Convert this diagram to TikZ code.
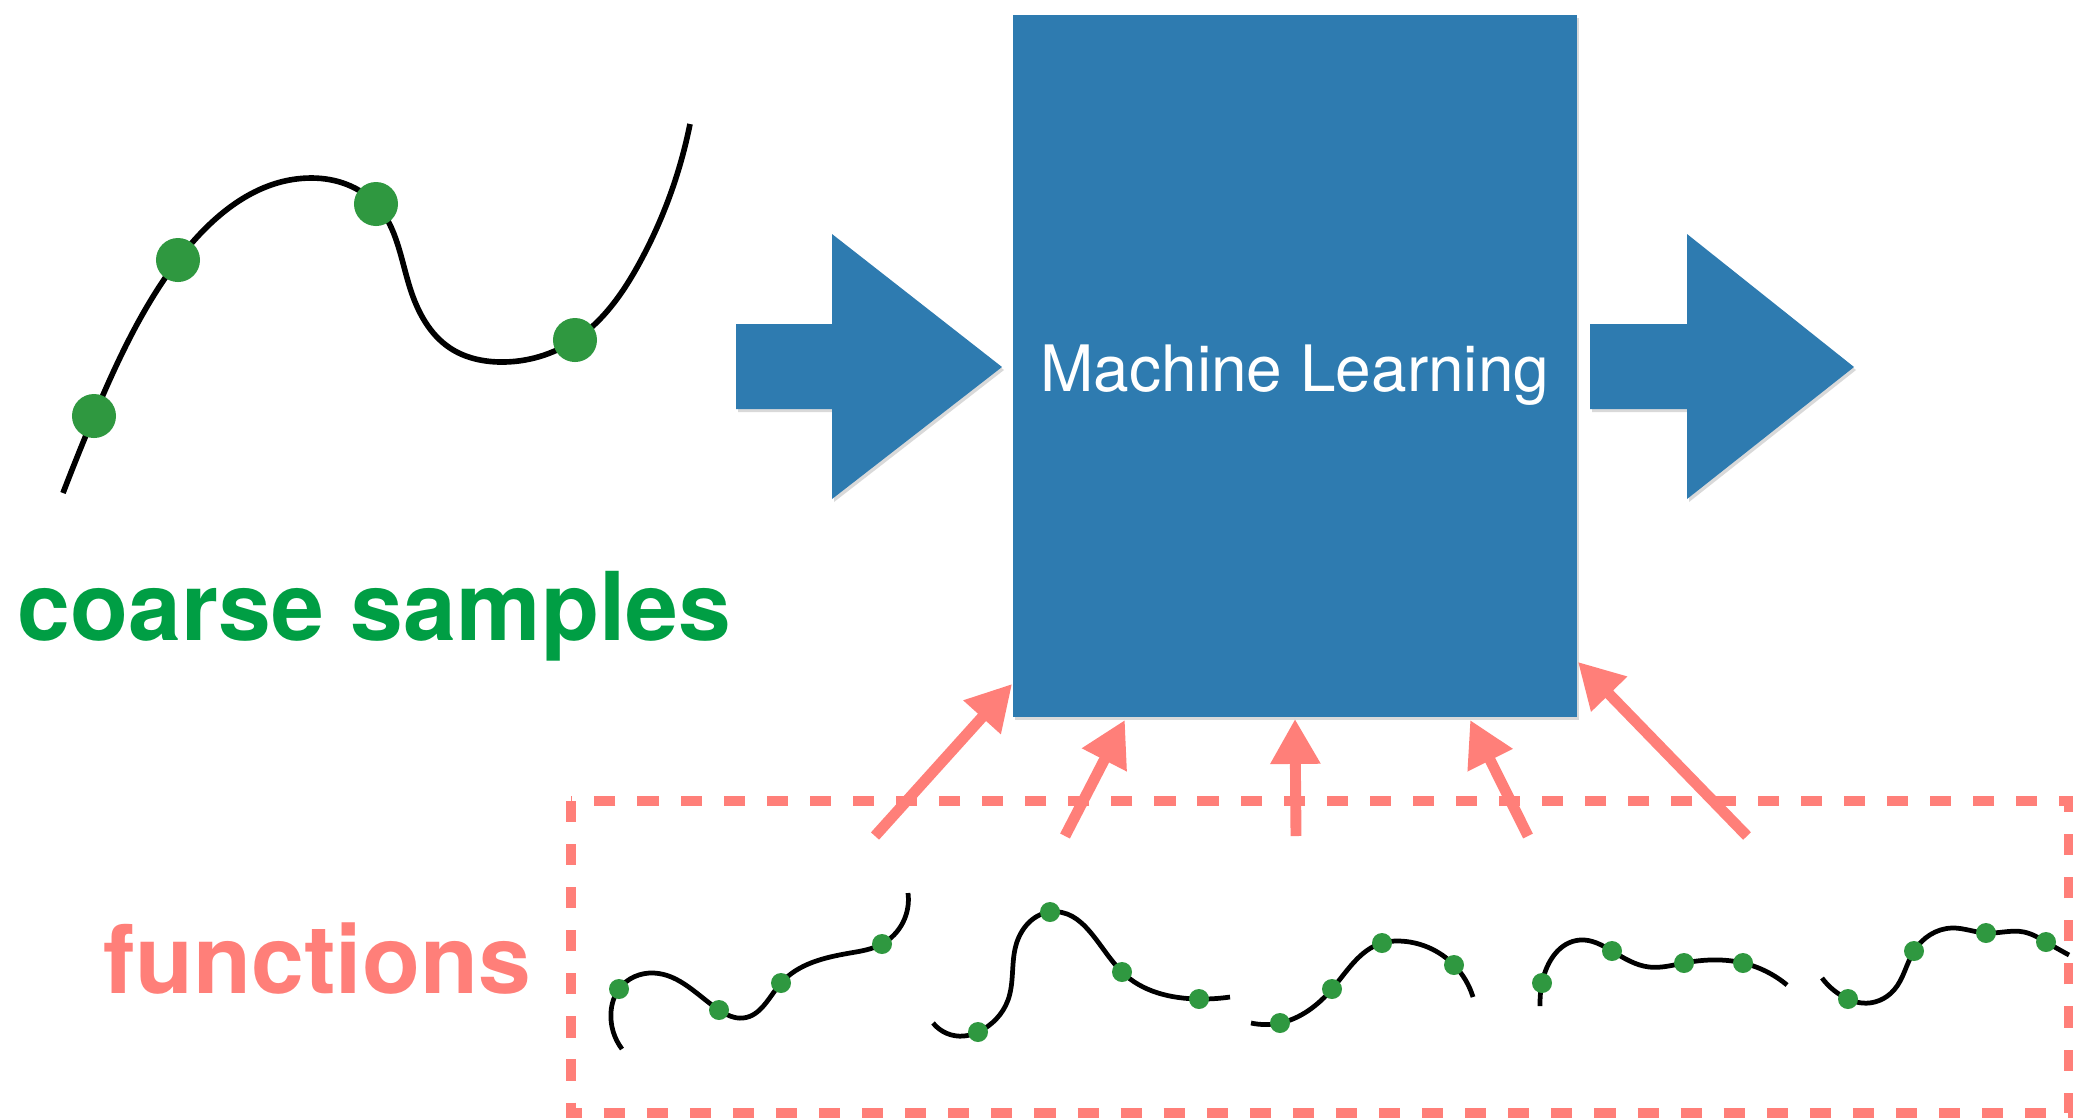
\documentclass[tikz,border=0pt]{standalone}
\usepackage{fontspec}
\setmainfont{TeX Gyre Heros}
\usetikzlibrary{arrows.meta,shadows,hobby}
\definecolor{mlblue}{RGB}{46,123,176}
\definecolor{salmon}{RGB}{255,127,121}
\definecolor{textgreen}{RGB}{0,158,68}
\definecolor{dotgreen}{RGB}{47,152,64}
\begin{document}
\begin{tikzpicture}[x=0.01cm,y=-0.01cm,
  softshadow/.style={drop shadow={shadow xshift=0.02cm,shadow yshift=-0.03cm,opacity=0.15,fill=black}},
  mlbox/.style={fill=mlblue,minimum width=5.64cm,minimum height=7.02cm,inner sep=0pt,softshadow},
  bigarrow/.style={fill=mlblue,softshadow},
  fnarrow/.style={draw=salmon,line width=3.1pt,-{Triangle[length=12.8pt,width=13.5pt]}},
  fnbox/.style={draw=salmon,line width=2.85pt,dash pattern=on 6pt off 6.25pt},
  bigcurve/.style={draw=black,line width=1.6pt,use Hobby shortcut},
  smallcurve/.style={draw=black,line width=1.35pt,use Hobby shortcut},
  bigdot/.style={circle,fill=dotgreen,minimum size=0.44cm,inner sep=0pt},
  smalldot/.style={circle,fill=dotgreen,minimum size=0.2cm,inner sep=0pt},
  biglabel/.style={font=\fontsize{27}{32}\selectfont\bfseries,inner sep=0pt,anchor=base west},
]
\useasboundingbox (0,0) rectangle (2073,1117);

% coarse sampled function
\draw[bigcurve] (63,493) .. (94,416) .. (178,260) .. (312,178) .. (376,204) .. (410,288) .. (450,348) .. (500,362) .. (575,340) .. (640,262) .. (690,124);
\node[bigdot] (s1) at (94,416) {};
\node[bigdot] (s2) at (178,260) {};
\node[bigdot] (s3) at (376,204) {};
\node[bigdot] (s4) at (575,340) {};
\node[biglabel,text=textgreen] (coarse) at (17,640) {coarse samples};

% machine learning block
\node[mlbox] (ml) at (1295,366) {};
\node[font=\fontsize{18.2}{22}\selectfont,text=white,inner sep=0pt,anchor=base] (mllabel) at (1295,391) {Machine Learning};

% input and output arrows
\fill[bigarrow] (736,324) -- (832,324) -- (832,234) -- (1002,367) -- (832,499) -- (832,409) -- (736,409) -- cycle;
\fill[bigarrow] (1590,324) -- (1687,324) -- (1687,234) -- (1854,367) -- (1687,499) -- (1687,409) -- (1590,409) -- cycle;

% training functions
\draw[fnbox] (571,801) rectangle (2069,1113);
\node[biglabel,text=salmon] (functions) at (103,993) {functions};

\draw[smallcurve] (622,1049) .. (611,1012) .. (619,989) .. (654,973) .. (719,1010) .. (743,1018) .. (781,983) .. (850,953) .. (882,944) .. (908,893);
\draw[smallcurve] (933,1023) .. (964,1036) .. (978,1032) .. (1008,1000) .. (1016,945) .. (1050,912) .. (1122,972) .. (1199,999) .. (1230,997);
\draw[smallcurve] (1251,1023) .. (1280,1023) .. (1332,989) .. (1382,943) .. (1399,941) .. (1454,965) .. (1473,997);
\draw[smallcurve] (1540,1006) .. (1542,983) .. (1580,940) .. (1612,951) .. (1649,967) .. (1684,963) .. (1743,963) .. (1787,985);
\draw[smallcurve] (1822,978) .. (1848,999) .. (1862,1003) .. (1894,990) .. (1914,951) .. (1952,928) .. (1986,933) .. (2024,932) .. (2046,942) .. (2069,955);

\foreach \n/\p in {a1/{(619,989)},a2/{(719,1010)},a3/{(781,983)},a4/{(882,944)},
                   b1/{(978,1032)},b2/{(1050,912)},b3/{(1122,972)},b4/{(1199,999)},
                   c1/{(1280,1023)},c2/{(1332,989)},c3/{(1382,943)},c4/{(1454,965)},
                   d1/{(1542,983)},d2/{(1612,951)},d3/{(1684,963)},d4/{(1743,963)},
                   e1/{(1848,999)},e2/{(1914,951)},e3/{(1986,933)},e4/{(2046,942)}}
  \node[smalldot] (\n) at \p {};

% connectors into the block
\coordinate (t1) at (875,836);
\coordinate (t2) at (1065,836);
\coordinate (t3) at (1296,836);
\coordinate (t4) at (1528,836);
\coordinate (t5) at (1747,836);
\draw[fnarrow] (t1) -- ([yshift=0.34cm]ml.south west);
\draw[fnarrow] (t2) -- ([xshift=-1.7cm,yshift=-0.02cm]ml.south);
\draw[fnarrow] (t3) -- ([yshift=-0.01cm]ml.south);
\draw[fnarrow] (t4) -- ([xshift=1.75cm,yshift=-0.02cm]ml.south);
\draw[fnarrow] (t5) -- ([yshift=0.56cm]ml.south east);
\end{tikzpicture}
\end{document}
